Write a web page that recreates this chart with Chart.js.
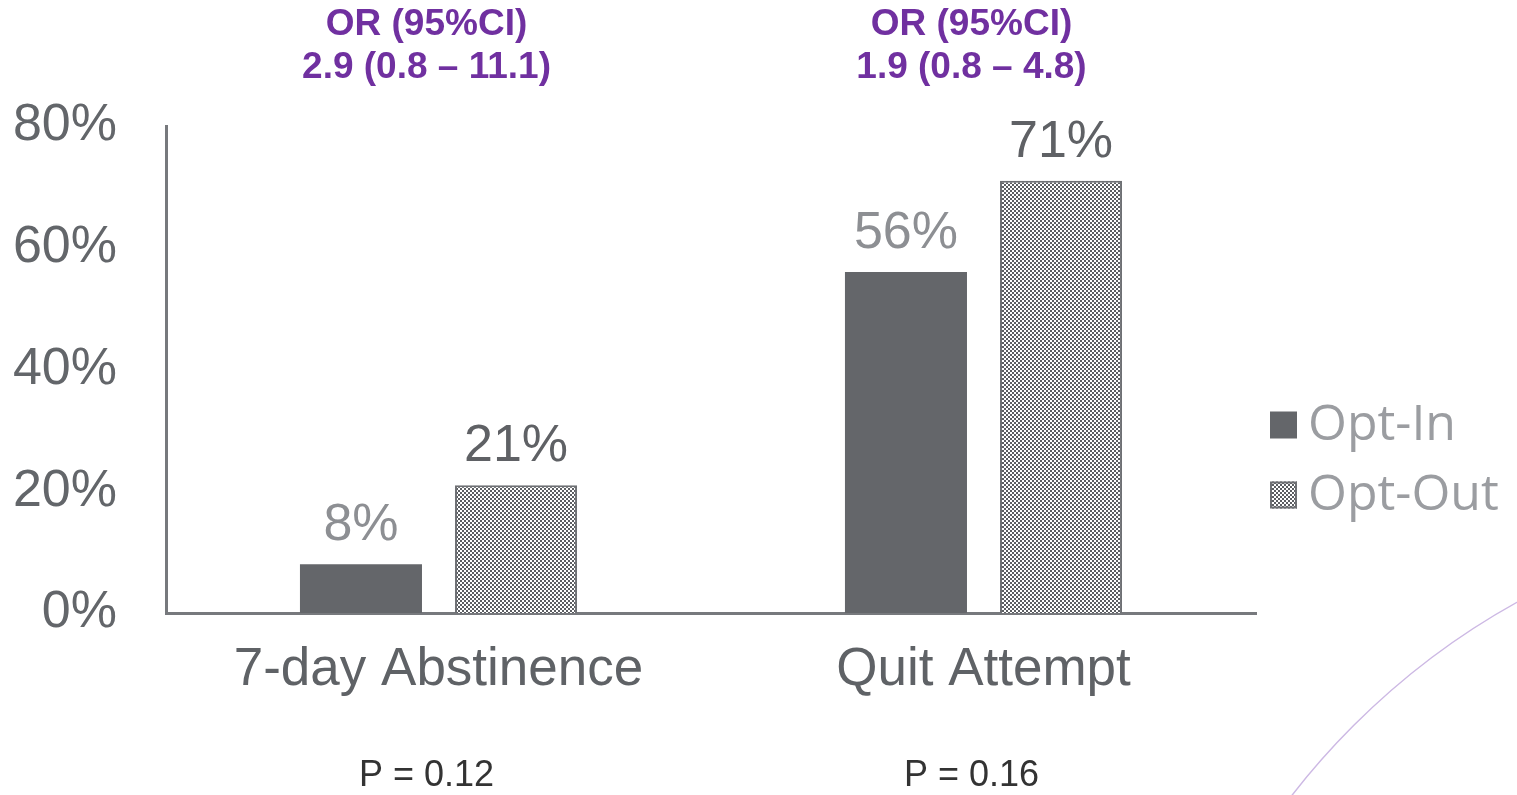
<!DOCTYPE html>
<html>
<head>
<meta charset="utf-8">
<script src="https://cdn.jsdelivr.net/npm/chart.js@4.4.1/dist/chart.umd.min.js"></script>
<style>
  html, body { margin: 0; padding: 0; background: #ffffff; overflow: hidden; }
  #wrap { position: relative; width: 1517px; height: 795px; }
  canvas { display: block; }
</style>
</head>
<body>
<div id="wrap"><canvas id="chart" width="1517" height="795"></canvas></div>
<script>
// Outcome categories and the two enrolment arms (percent of participants)
const categories = ['7-day Abstinence', 'Quit Attempt'];
const seriesNames = ['Opt-In', 'Opt-Out'];
const optIn = [8, 56];
const optOut = [21, 71];
const yTickValues = [0, 20, 40, 60, 80];
const pValues = ['P = 0.12', 'P = 0.16'];
const orHeaders = ['OR (95%CI)', 'OR (95%CI)'];
const orValues = ['2.9 (0.8 \u2013 11.1)', '1.9 (0.8 \u2013 4.8)'];

const FONT = "'Liberation Sans', Arial, Helvetica, sans-serif";
const LEGEND_FONT = "'Open Sans', 'Liberation Sans', Arial, sans-serif";
const SOLID = '#64666a';
const BORDER = '#6e7074';

// 2px checkerboard fill for the Opt-Out bars
function checkerPattern() {
  const tile = document.createElement('canvas');
  tile.width = 4; tile.height = 4;
  const g = tile.getContext('2d');
  g.fillStyle = '#ffffff';
  g.fillRect(0, 0, 4, 4);
  g.fillStyle = '#5c5e62';
  g.fillRect(0, 0, 2, 2);
  g.fillRect(2, 2, 2, 2);
  return g.createPattern(tile, 'repeat');
}
const CHECKER = checkerPattern();

// Percent labels above each bar
const valueLabels = {
  id: 'valueLabels',
  afterDatasetsDraw(chart) {
    const ctx = chart.ctx;
    const colors = ['#8d8f93', '#5f6165'];
    ctx.save();
    ctx.font = '52px ' + FONT;
    ctx.textAlign = 'center';
    ctx.textBaseline = 'alphabetic';
    chart.data.datasets.forEach((ds, i) => {
      const meta = chart.getDatasetMeta(i);
      ctx.fillStyle = colors[i];
      meta.data.forEach((bar, j) => {
        ctx.fillText(ds.data[j] + '%', bar.x, bar.y - 24);
      });
    });
    ctx.restore();
  }
};

// Legend on the right, built from the datasets
const sideLegend = {
  id: 'sideLegend',
  afterDraw(chart) {
    const ctx = chart.ctx;
    const x0 = chart.chartArea.right + 14;
    const rows = [425, 495];
    ctx.save();
    chart.data.datasets.forEach((ds, i) => {
      const cy = rows[i];
      ctx.fillStyle = ds.backgroundColor;
      ctx.fillRect(x0, cy - 13.5, 27, 27);
      if (ds.borderWidth) {
        ctx.strokeStyle = ds.borderColor;
        ctx.lineWidth = 2;
        ctx.strokeRect(x0 + 1, cy - 12.5, 25, 25);
      }
      ctx.fillStyle = '#9b9da1';
      ctx.font = '50px ' + LEGEND_FONT;
      ctx.textAlign = 'left';
      ctx.textBaseline = 'middle';
      ctx.fillText(ds.label, x0 + 38, cy + 1);
    });
    ctx.restore();
  }
};

// Odds ratios above each group and p-values beneath the axis labels
const groupNotes = {
  id: 'groupNotes',
  afterDraw(chart) {
    const ctx = chart.ctx;
    const xs = chart.scales.x;
    ctx.save();
    ctx.textAlign = 'center';
    ctx.textBaseline = 'middle';
    categories.forEach((c, i) => {
      const cx = xs.getPixelForValue(i) - 12;
      ctx.fillStyle = '#7030a0';
      ctx.font = 'bold 37px ' + FONT;
      ctx.fillText(orHeaders[i], cx, 25);
      ctx.fillText(orValues[i], cx, 68);
      ctx.fillStyle = '#333333';
      ctx.font = '36px ' + FONT;
      ctx.fillText(pValues[i], cx, 776);
    });
    ctx.restore();
  }
};

// Thin decorative arc in the lower right corner
const cornerArc = {
  id: 'cornerArc',
  beforeDraw(chart) {
    const ctx = chart.ctx;
    ctx.save();
    ctx.strokeStyle = '#cdb9e4';
    ctx.lineWidth = 1.5;
    ctx.beginPath();
    ctx.arc(1874, 1246, 736, Math.PI, Math.PI * 1.5);
    ctx.stroke();
    ctx.restore();
  }
};

new Chart(document.getElementById('chart'), {
  type: 'bar',
  data: {
    labels: categories,
    datasets: [
      {
        label: seriesNames[0],
        data: optIn,
        backgroundColor: SOLID,
        borderWidth: 0
      },
      {
        label: seriesNames[1],
        data: optOut,
        backgroundColor: CHECKER,
        borderColor: BORDER,
        borderWidth: 2
      }
    ]
  },
  options: {
    responsive: false,
    animation: false,
    devicePixelRatio: 1,
    categoryPercentage: 0.569,
    barPercentage: 0.787,
    layout: { padding: { top: 126, right: 261, left: 0, bottom: 0 } },
    plugins: {
      legend: { display: false },
      tooltip: { enabled: false }
    },
    scales: {
      x: {
        grid: { display: false, drawTicks: false },
        border: { display: true, color: '#77797d', width: 3 },
        ticks: {
          color: '#5f6266',
          font: { family: FONT, size: 53 },
          padding: 26,
          maxRotation: 0,
          autoSkip: false
        },
        afterFit(scale) { scale.height = 182; }
      },
      y: {
        min: 0,
        max: 80,
        afterBuildTicks(scale) { scale.ticks = yTickValues.map(v => ({ value: v })); },
        grid: { display: false, drawTicks: false },
        border: { display: true, color: '#77797d', width: 3 },
        ticks: {
          color: '#63666a',
          font: { family: FONT, size: 52 },
          padding: 49,
          callback: v => v + '%'
        },
        afterFit(scale) { scale.width = 166; }
      }
    }
  },
  plugins: [cornerArc, valueLabels, sideLegend, groupNotes]
});
</script>
</body>
</html>
